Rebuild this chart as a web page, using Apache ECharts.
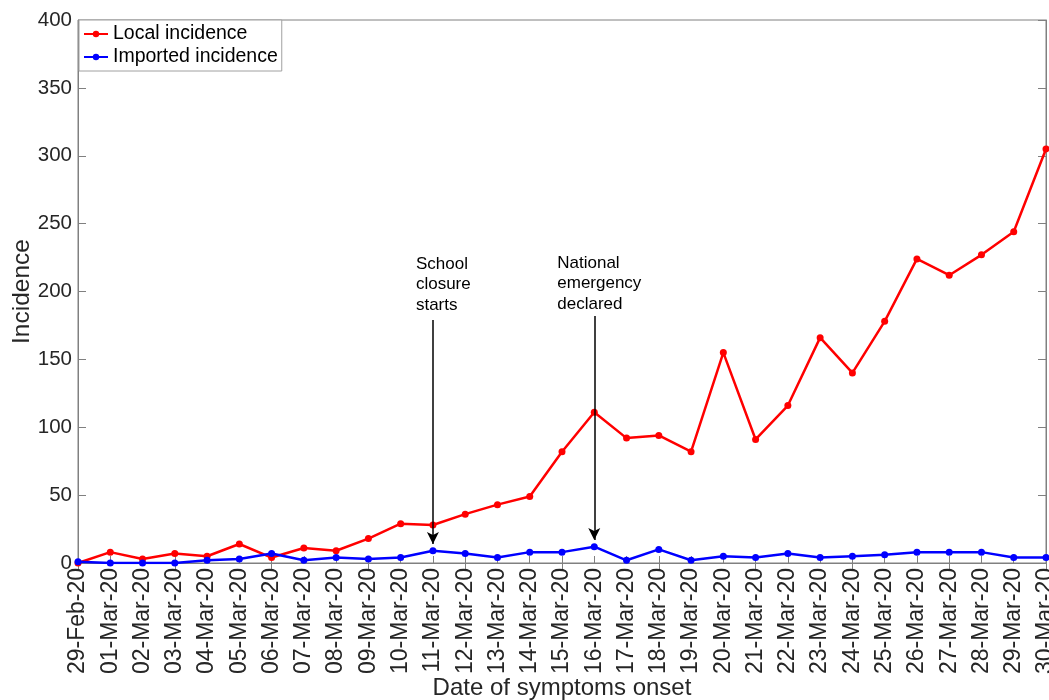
<!DOCTYPE html>
<html>
<head>
<meta charset="utf-8">
<script src="https://cdn.jsdelivr.net/npm/echarts@6/dist/echarts.min.js"></script>
<style>
html,body{margin:0;padding:0;background:#fff;}
#chart{width:1049px;height:700px;}
</style>
</head>
<body>
<div id="chart"></div>
<script>
const categories = ['29-Feb-20','01-Mar-20','02-Mar-20','03-Mar-20','04-Mar-20','05-Mar-20','06-Mar-20','07-Mar-20','08-Mar-20','09-Mar-20','10-Mar-20','11-Mar-20','12-Mar-20','13-Mar-20','14-Mar-20','15-Mar-20','16-Mar-20','17-Mar-20','18-Mar-20','19-Mar-20','20-Mar-20','21-Mar-20','22-Mar-20','23-Mar-20','24-Mar-20','25-Mar-20','26-Mar-20','27-Mar-20','28-Mar-20','29-Mar-20','30-Mar-20'];
const localIncidence = [0,8,3,7,5,14,4,11,9,18,29,28,36,43,49,82,111,92,94,82,155,91,116,166,140,178,224,212,227,244,305];
const importedIncidence = [1,0,0,0,2,3,7,2,4,3,4,9,7,4,8,8,12,2,10,2,5,4,7,4,5,6,8,8,8,4,4];
const yTicks = {min:0, max:400, interval:50};
const annotationDates = ['11-Mar-20','16-Mar-20'];
const annotationFrom = [179, 182];
const annotationTo = [14, 17];
const annotationTexts = ['School\nclosure\nstarts', 'National\nemergency\ndeclared'];

// label placement (pixels relative to arrow start)
const annotationLabelPos = [[-17,-66],[-37,-63]];

const FONT = 'Liberation Sans, Arial, Helvetica, sans-serif';
const AXIS = '#808080';
const TXT = '#262626';

const chart = echarts.init(document.getElementById('chart'));
const option = {
  animation:false,
  backgroundColor:'#fff',
  grid:{left:78, top:20, right:3, bottom:137, show:true, borderColor:AXIS, borderWidth:1,
        containLabel:false, outerBoundsMode:'none'},
  legend:{
    orient:'vertical', left:79, top:20, itemWidth:24, itemHeight:8, itemGap:3,
    padding:[4,4,4,4],
    borderColor:'#a0a0a0', borderWidth:1, backgroundColor:'#fff',
    textStyle:{fontFamily:FONT, fontSize:19.5, lineHeight:20, color:'#000'},
    data:[{name:'Local incidence'},{name:'Imported incidence'}]
  },
  xAxis:[{
    type:'category', data:categories, boundaryGap:false,
    axisLine:{lineStyle:{color:AXIS}},
    axisTick:{inside:true, length:7, alignWithLabel:true, lineStyle:{color:AXIS}},
    axisLabel:{rotate:90, interval:0, fontFamily:FONT, fontSize:23, color:TXT, margin:5, hideOverlap:false},
    name:'Date of symptoms onset', nameLocation:'middle', nameGap:113, nameMoveOverlap:false,
    nameTextStyle:{fontFamily:FONT, fontSize:24, color:TXT}
  },{
    type:'category', data:categories, boundaryGap:false, position:'top',
    axisLine:{lineStyle:{color:AXIS}},
    axisTick:{inside:true, length:7, lineStyle:{color:AXIS}},
    axisLabel:{show:false}
  }],
  yAxis:[{
    type:'value', min:yTicks.min, max:yTicks.max, interval:yTicks.interval,
    axisLine:{show:true, lineStyle:{color:AXIS}},
    axisTick:{show:true, inside:true, length:8, lineStyle:{color:AXIS}},
    splitLine:{show:false},
    axisLabel:{fontFamily:FONT, fontSize:20.5, color:TXT, margin:6},
    name:'Incidence', nameLocation:'middle', nameGap:43, nameMoveOverlap:false,
    nameTextStyle:{fontFamily:FONT, fontSize:24.5, color:TXT}
  },{
    type:'value', min:yTicks.min, max:yTicks.max, interval:yTicks.interval, position:'right',
    axisLine:{show:true, lineStyle:{color:AXIS}},
    axisTick:{show:true, inside:true, length:8, lineStyle:{color:AXIS}},
    splitLine:{show:false}, axisLabel:{show:false}
  }],
  series:[{
    name:'Local incidence', type:'line', data:localIncidence,
    symbol:'circle', symbolSize:7, showAllSymbol:true,
    lineStyle:{color:'#ff0000', width:2.5}, itemStyle:{color:'#ff0000'}, z:3,
    markLine:{
      silent:true, symbol:['none','arrow'], symbolSize:[9,12],
      lineStyle:{color:'#000', width:1.5, type:'solid'},
      label:{show:false},
      data: annotationDates.map((d,i)=>[{coord:[d,annotationFrom[i]]},{coord:[d,annotationTo[i]]}])
    },
    markPoint:{
      silent:true, symbol:'circle', symbolSize:0,
      data: annotationDates.map((d,i)=>({
        coord:[d,annotationFrom[i]], value:annotationTexts[i],
        label:{position:annotationLabelPos[i]}
      })),
      label:{show:true, formatter:p=>p.value, align:'left', verticalAlign:'top',
        fontFamily:FONT, fontSize:17, lineHeight:20.5, color:'#000'}
    }
  },{
    name:'Imported incidence', type:'line', data:importedIncidence,
    symbol:'circle', symbolSize:7, showAllSymbol:true,
    lineStyle:{color:'#0000ff', width:2.5}, itemStyle:{color:'#0000ff'}, z:4
  }]
};
chart.setOption(option);
</script>
</body>
</html>
